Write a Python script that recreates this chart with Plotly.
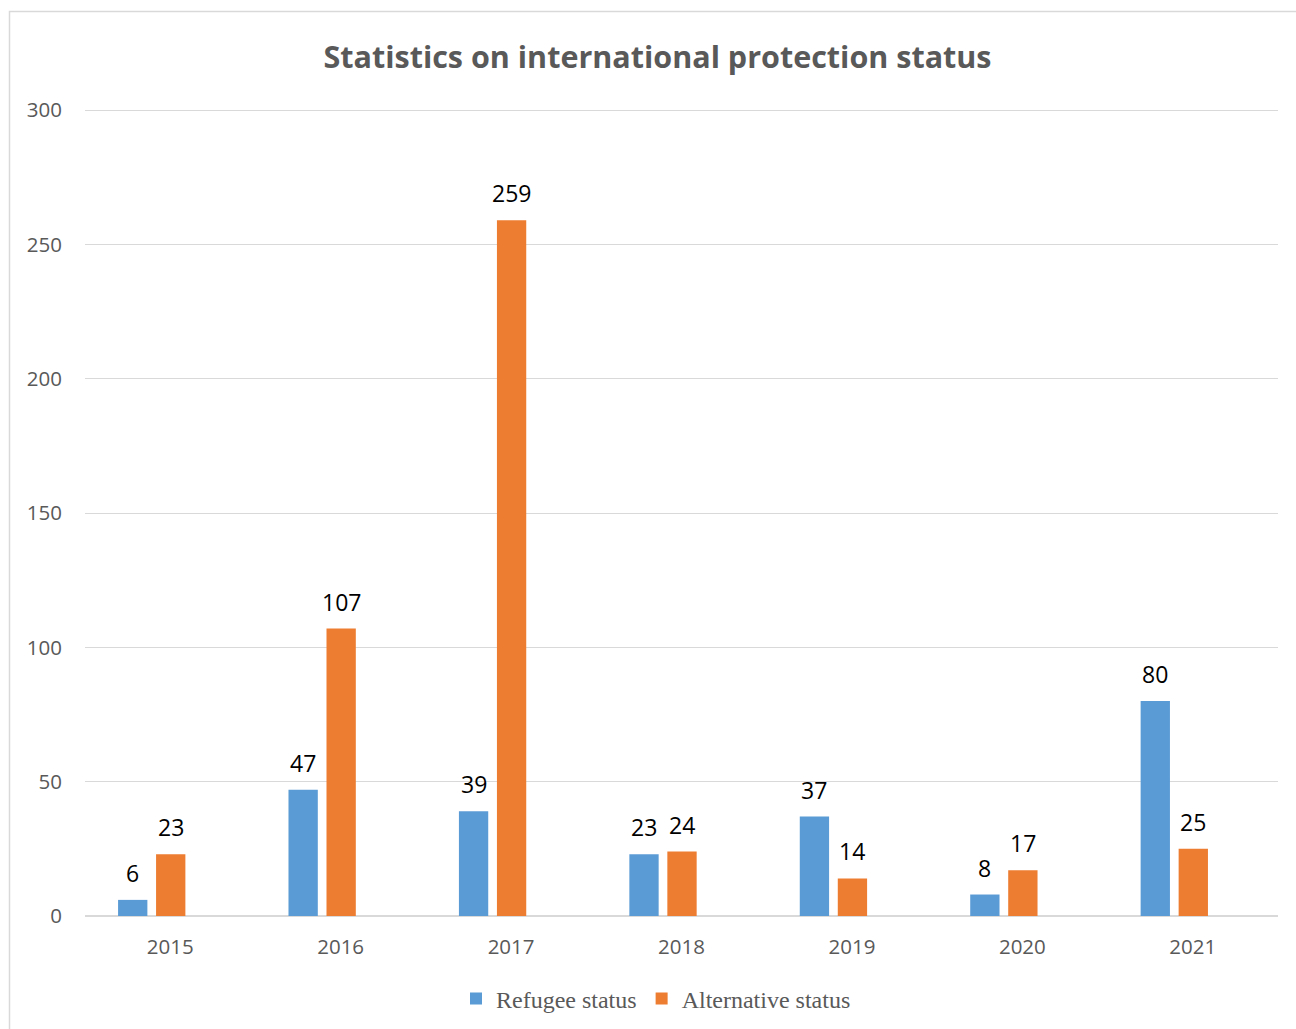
import plotly.graph_objects as go

years = ["2015", "2016", "2017", "2018", "2019", "2020", "2021"]
refugee_status = [6, 47, 39, 23, 37, 8, 80]
alternative_status = [23, 107, 259, 24, 14, 17, 25]

W, H = 1296, 1029
L, R, T, B = 85, 18, 107, 113
pw, ph = W - L - R, H - T - B
# a little headroom above 300 so its gridline is drawn inside the plot area
Y_MAX = 300 * ph / 806

# bar geometry in category units (one empty slot to the right, as in the source workbook)
BAR_W = 0.172
OFF_REF = -0.306
OFF_ALT = -0.083

def px_x(x):
    return (x - L) / pw

def px_y(y):
    return (H - B - y) / ph

fig = go.Figure()
fig.add_trace(go.Bar(
    x=years, y=refugee_status, name="Refugee status",
    marker=dict(color="#5b9bd5", line=dict(width=0)),
    width=BAR_W, offset=OFF_REF,
))
fig.add_trace(go.Bar(
    x=years, y=alternative_status, name="Alternative status",
    marker=dict(color="#ed7d31", line=dict(width=0)),
    width=BAR_W, offset=OFF_ALT,
))

label_font = dict(family="Open Sans", size=23, color="#000000")
annotations = []
for series, off in ((refugee_status, OFF_REF), (alternative_status, OFF_ALT)):
    for i, v in enumerate(series):
        annotations.append(dict(
            x=i + off + BAR_W / 2, y=v, xref="x", yref="y", text=str(v),
            showarrow=False, xanchor="center", yanchor="middle", yshift=27,
            font=label_font,
        ))

fig.update_layout(
    width=W, height=H,
    margin=dict(l=L, r=R, t=T, b=B, autoexpand=False),
    paper_bgcolor="white", plot_bgcolor="white",
    barmode="group",
    title=dict(
        text="<b>Statistics on international protection status</b>",
        x=657.5 / W, xref="container", xanchor="center",
        y=1 - 57 / H, yref="container", yanchor="middle",
        font=dict(family="Open Sans", size=30.5, color="#595959"),
    ),
    xaxis=dict(
        type="category", range=[-0.5, len(years) - 0.5],
        showgrid=False, showline=True, linecolor="#d9d9d9", linewidth=1,
        ticks="", tickfont=dict(family="Open Sans", size=20.5, color="#595959"),
        ticklabelstandoff=12,
    ),
    yaxis=dict(
        range=[0, Y_MAX], tickvals=[0, 50, 100, 150, 200, 250, 300],
        showgrid=True, gridcolor="#d9d9d9", gridwidth=1,
        zeroline=True, zerolinecolor="#d9d9d9", showline=False,
        ticks="", tickfont=dict(family="Open Sans", size=20.5, color="#595959"),
        ticklabelstandoff=22,
    ),
    legend=dict(
        orientation="h", x=px_x(656), xanchor="center",
        y=px_y(999), yanchor="middle",
        font=dict(family="Liberation Serif", size=24, color="#595959"),
        itemwidth=30, traceorder="normal",
    ),
    showlegend=True,
    annotations=annotations,
    shapes=[dict(
        type="rect", xref="paper", yref="paper",
        x0=px_x(9.5), x1=px_x(1310), y0=px_y(1040), y1=px_y(11.5),
        line=dict(color="#d9d9d9", width=1.5), fillcolor="rgba(0,0,0,0)",
        layer="below",
    )],
)

fig.write_html("out.html")
